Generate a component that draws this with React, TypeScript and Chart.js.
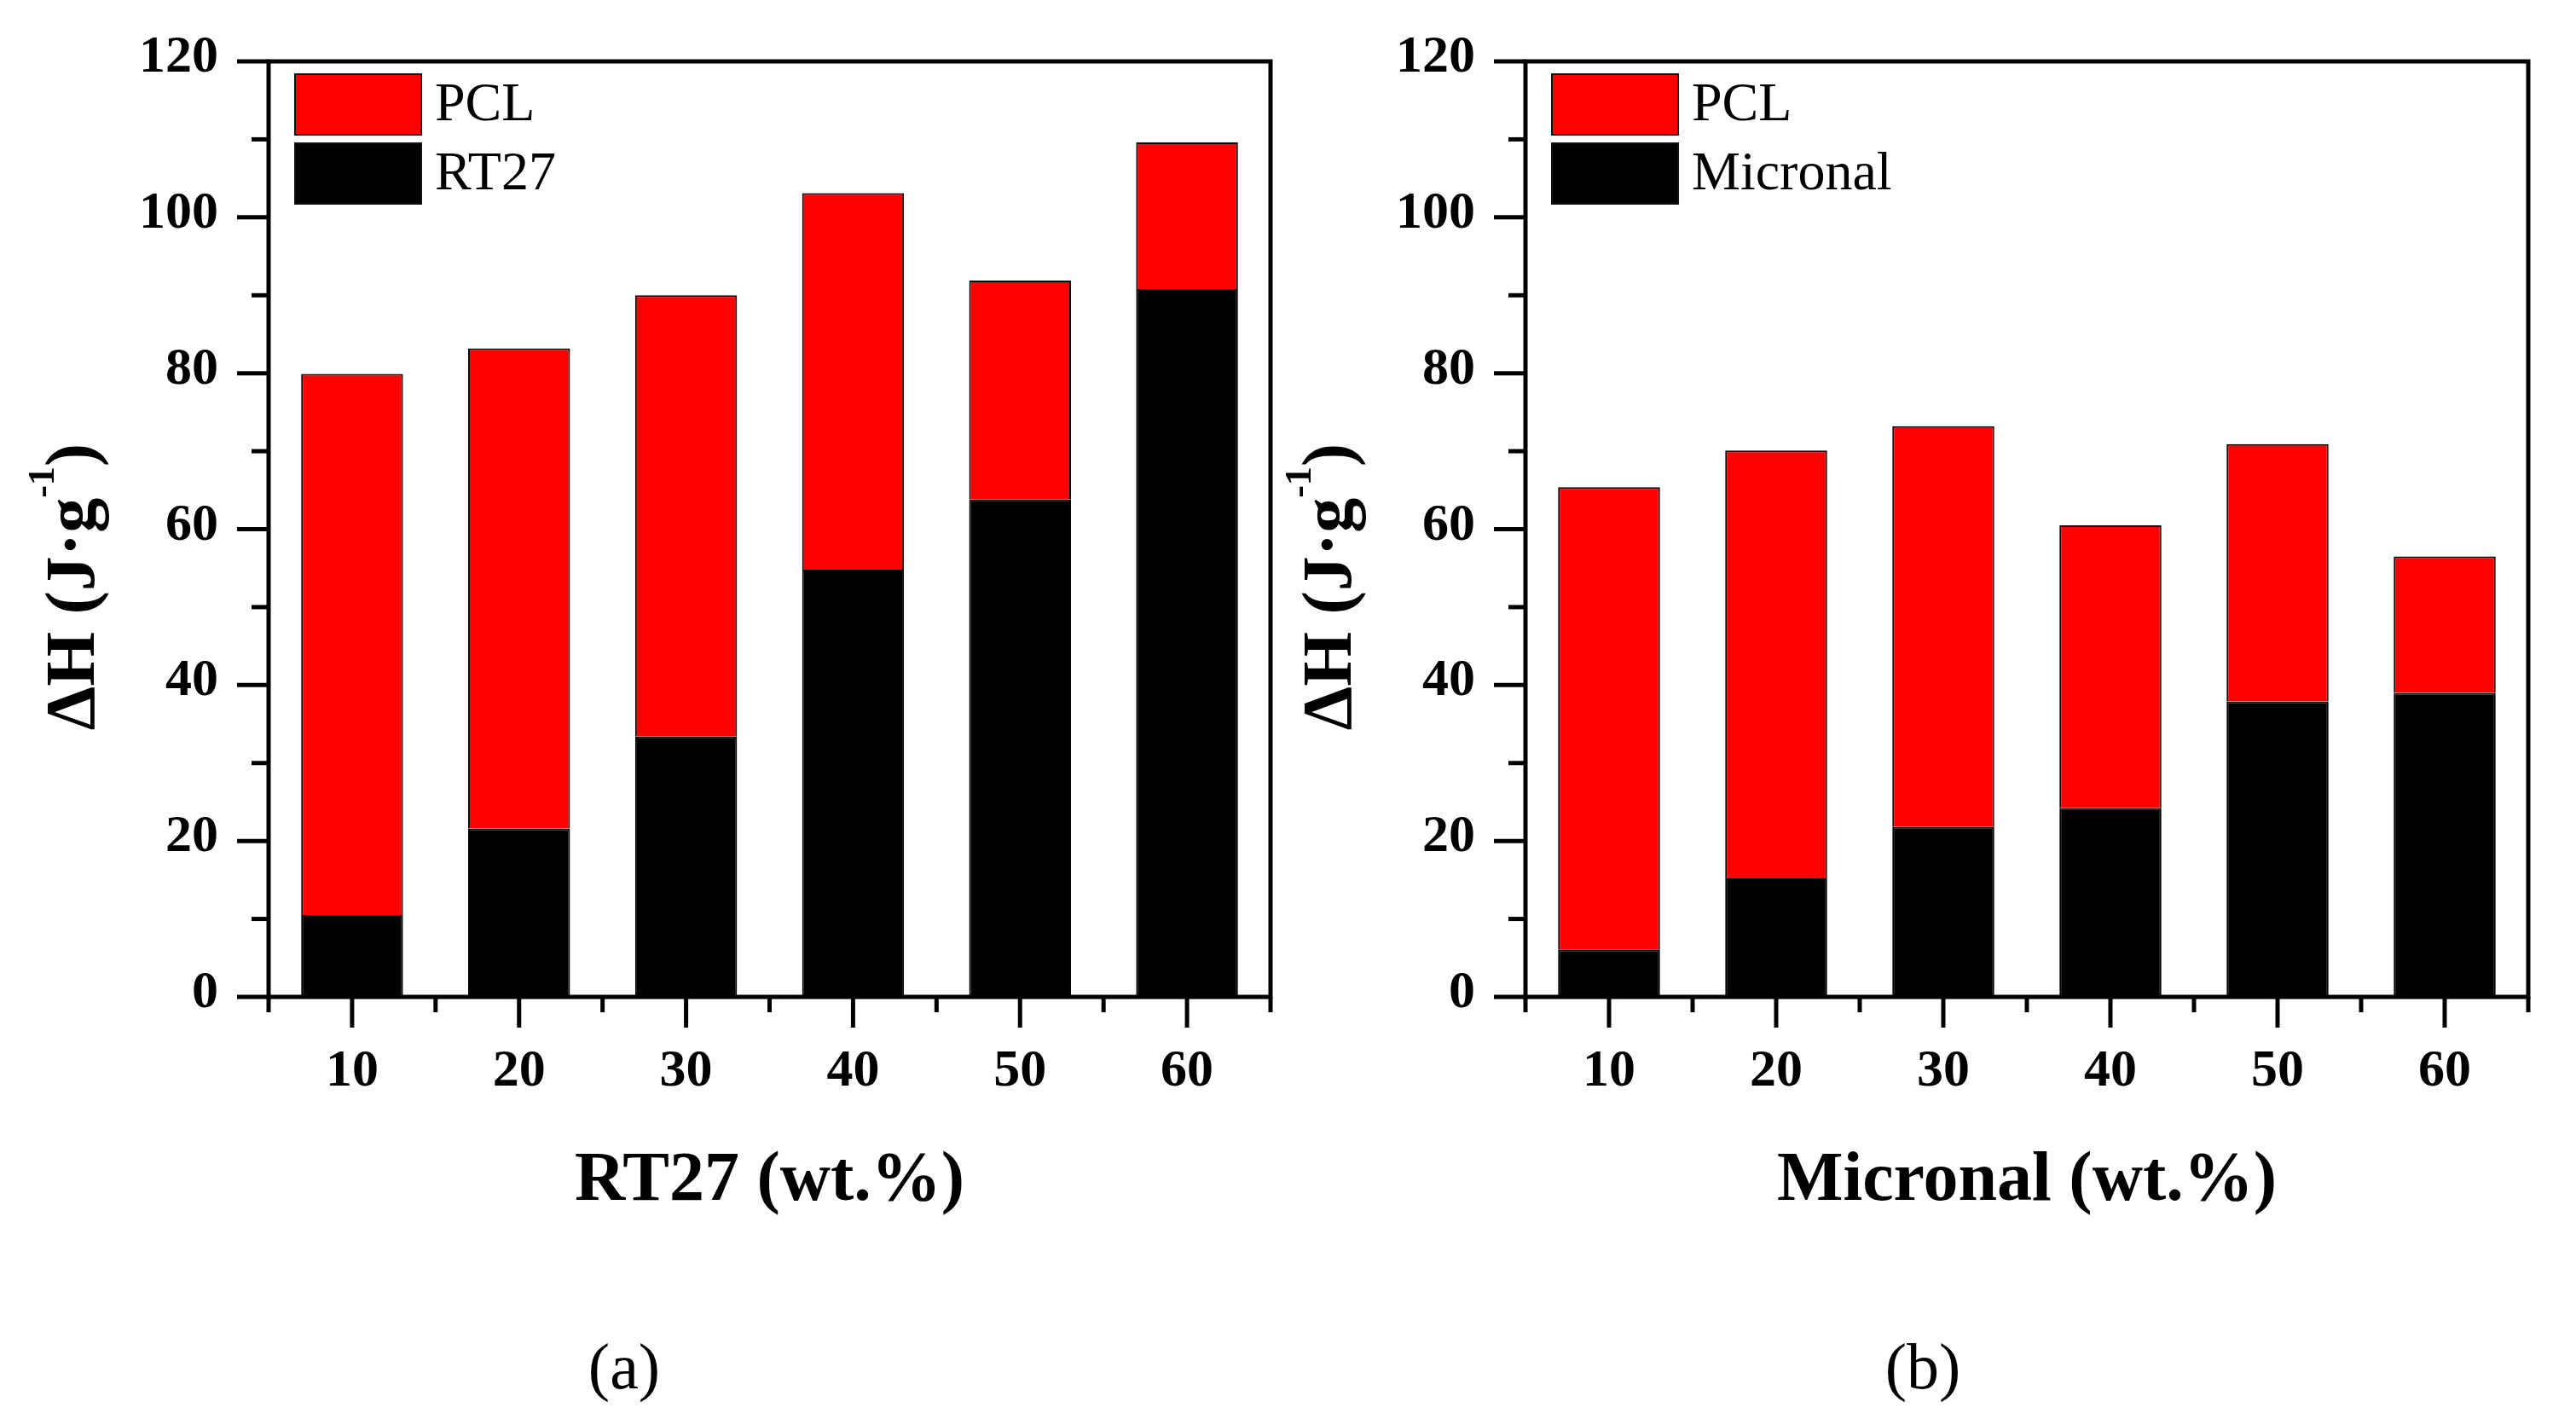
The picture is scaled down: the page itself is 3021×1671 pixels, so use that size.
import React, { useEffect, useRef } from 'react';
import { Chart, registerables } from 'chart.js';

Chart.register(...registerables);

// data (wt.% of PCM, enthalpy in J/g)
const categories = ['10', '20', '30', '40', '50', '60'];
const rt27Values = [10.5, 21.6, 33.4, 54.8, 63.8, 90.8];
const pclValuesA = [69.4, 61.6, 56.6, 48.3, 28.1, 18.8];
const micronalValues = [6.1, 15.2, 21.8, 24.2, 37.9, 39.0];
const pclValuesB = [59.3, 54.9, 51.4, 36.3, 33.0, 17.5];
const yMin = 0;
const yMax = 120;
const yStep = 10;
const yLabelStep = 20;

const FONT = "'Liberation Serif', 'Times New Roman', serif";
const CANVAS_W = 1520;
const CANVAS_H = 1460;
const PLOT_TOP = 72;
const PLOT_BOTTOM = 1169;

interface PanelProps {
  left: number;
  rightPad: number;
  pcmName: string;
  pcmValues: number[];
  pclValues: number[];
  xTitle: string;
  tag: string;
  tagX: number;
}

const Panel = ({ left, rightPad, pcmName, pcmValues, pclValues, xTitle, tag, tagX }: PanelProps) => {
  const canvasRef = useRef<HTMLCanvasElement>(null);
  const chartRef = useRef<Chart | null>(null);

  useEffect(() => {
    if (!canvasRef.current) return;
    const ctx = canvasRef.current.getContext('2d');
    if (!ctx) return;

    // axis frame, tick marks, legend and the y title with superscript
    const decor = {
      id: 'decor',
      afterDraw(chart: any) {
        const c = chart.ctx;
        const { left: l, right: r, top: t, bottom: b } = chart.chartArea;
        const xs = chart.scales.x;
        const ys = chart.scales.y;
        c.save();
        c.strokeStyle = '#000';
        c.lineWidth = 5;
        c.lineCap = 'square';
        c.strokeRect(l, t, r - l, b - t);
        c.lineCap = 'butt';
        const seg = (x1: number, y1: number, x2: number, y2: number) => {
          c.beginPath();
          c.moveTo(x1, y1);
          c.lineTo(x2, y2);
          c.stroke();
        };
        ys.ticks.forEach((tk: any) => {
          const py = ys.getPixelForValue(tk.value);
          const len = tk.value % yLabelStep === 0 ? 37 : 20;
          seg(l, py, l - len, py);
        });
        categories.forEach((_, i) => {
          const px = xs.getPixelForValue(i);
          seg(px, b, px, b + 36);
        });
        for (let i = 0; i <= categories.length; i++) {
          const px = xs.getPixelForValue(i - 0.5);
          seg(px, b, px, b + 18);
        }

        // legend inside the plot, top dataset first
        const items = [...chart.data.datasets].reverse();
        items.forEach((ds: any, i: number) => {
          const bx = l + 31;
          const by = t + 15 + i * 81;
          c.fillStyle = ds.backgroundColor;
          c.fillRect(bx, by, 148, 71);
          c.lineWidth = 2;
          c.strokeStyle = '#111';
          c.strokeRect(bx, by, 148, 71);
          c.fillStyle = '#000';
          c.font = `64px ${FONT}`;
          c.textAlign = 'left';
          c.textBaseline = 'middle';
          c.fillText(ds.label, l + 195, by + 37);
        });

        // y title: ΔH (J·g⁻¹)
        const main = 'ΔH (J·g';
        const sup = '-1';
        const tail = ')';
        c.font = `bold 82px ${FONT}`;
        const w1 = c.measureText(main).width;
        const w3 = c.measureText(tail).width;
        c.font = `bold 44px ${FONT}`;
        const w2 = c.measureText(sup).width;
        const total = w1 + w2 + w3;
        c.translate(83, 688);
        c.rotate(-Math.PI / 2);
        c.textAlign = 'left';
        c.textBaseline = 'alphabetic';
        c.fillStyle = '#000';
        let cx = -total / 2;
        c.font = `bold 82px ${FONT}`;
        c.fillText(main, cx, 27);
        cx += w1;
        c.font = `bold 44px ${FONT}`;
        c.fillText(sup, cx, -20);
        cx += w2;
        c.font = `bold 82px ${FONT}`;
        c.fillText(tail, cx, 27);
        c.restore();
      },
    };

    chartRef.current = new Chart(ctx, {
      type: 'bar',
      data: {
        labels: categories,
        datasets: [
          {
            label: pcmName,
            data: pcmValues,
            backgroundColor: '#000000',
            borderColor: '#000000',
            borderWidth: 2,
            barPercentage: 0.61,
            categoryPercentage: 1,
          },
          {
            label: 'PCL',
            data: pclValues,
            backgroundColor: '#FF0000',
            borderColor: '#1a0000',
            borderWidth: 2,
            barPercentage: 0.61,
            categoryPercentage: 1,
          },
        ],
      },
      options: {
        animation: false,
        responsive: false,
        devicePixelRatio: 1,
        layout: {
          padding: { top: PLOT_TOP, right: rightPad, bottom: 0, left: 0 },
        },
        plugins: {
          legend: { display: false },
          tooltip: { enabled: false },
        },
        scales: {
          x: {
            stacked: true,
            offset: true,
            grid: { display: false, drawTicks: false },
            border: { display: false },
            ticks: {
              autoSkip: false,
              maxRotation: 0,
              padding: 57,
              color: '#000',
              font: { family: FONT, size: 62, weight: 'bold', lineHeight: 1 },
            },
            title: {
              display: true,
              text: xTitle,
              color: '#000',
              font: { family: FONT, size: 82, weight: 'bold', lineHeight: 1 },
              padding: { top: 0, bottom: 33 },
            },
            afterFit: (scale: any) => {
              scale.height = CANVAS_H - PLOT_BOTTOM;
              scale.paddingLeft = 0;
              scale.paddingRight = 0;
            },
          },
          y: {
            stacked: true,
            min: yMin,
            max: yMax,
            grid: { display: false, drawTicks: false },
            border: { display: false },
            ticks: {
              stepSize: yStep,
              autoSkip: false,
              padding: 59,
              labelOffset: -4,
              color: '#000',
              font: { family: FONT, size: 62, weight: 'bold', lineHeight: 1 },
              callback: (v: any) => (Number(v) % yLabelStep === 0 ? String(v) : ''),
            },
            afterFit: (scale: any) => {
              scale.width = 315;
              scale.paddingTop = 0;
              scale.paddingBottom = 0;
            },
          },
        },
      },
      plugins: [decor],
    });

    return () => {
      if (chartRef.current) {
        chartRef.current.destroy();
        chartRef.current = null;
      }
    };
  }, []);

  return (
    <>
      <canvas
        ref={canvasRef}
        width={CANVAS_W}
        height={CANVAS_H}
        style={{ position: 'absolute', left, top: 0, width: CANVAS_W, height: CANVAS_H }}
      />
      <div
        style={{
          position: 'absolute',
          left: tagX,
          top: 1602,
          transform: 'translate(-50%, -50%)',
          fontFamily: FONT,
          fontSize: 76,
          lineHeight: 1,
          color: '#000',
        }}
      >
        {tag}
      </div>
    </>
  );
};

export default function App() {
  return (
    <div
      style={{
        position: 'fixed',
        left: 0,
        top: 0,
        width: 3021,
        height: 1671,
        background: '#fff',
        overflow: 'hidden',
      }}
    >
      <Panel
        left={0}
        rightPad={30}
        pcmName="RT27"
        pcmValues={rt27Values}
        pclValues={pclValuesA}
        xTitle="RT27 (wt.%)"
        tag="(a)"
        tagX={732}
      />
      <Panel
        left={1474}
        rightPad={29}
        pcmName="Micronal"
        pcmValues={micronalValues}
        pclValues={pclValuesB}
        xTitle="Micronal (wt.%)"
        tag="(b)"
        tagX={2255}
      />
    </div>
  );
}
